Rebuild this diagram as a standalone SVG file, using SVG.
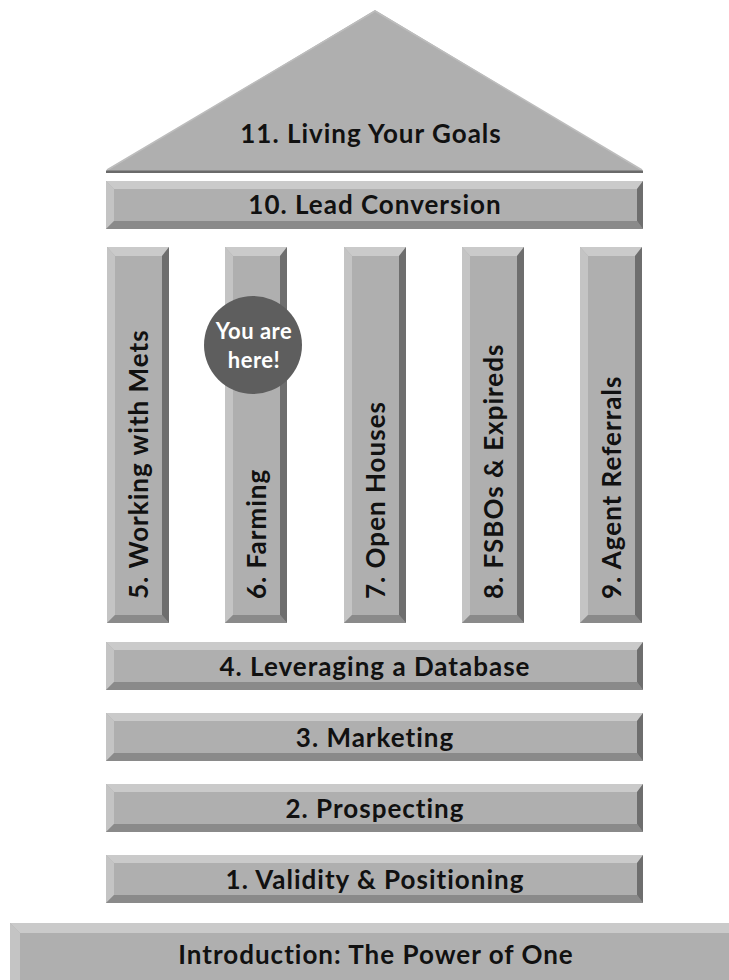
<svg xmlns="http://www.w3.org/2000/svg" xmlns:xlink="http://www.w3.org/1999/xlink" width="729" height="980" viewBox="0 0 729 980">
  <style>
    .face { fill: #afafaf; }
    .top { fill: #cacaca; }
    .left { fill: #c4c4c4; }
    .right { fill: #6e6e6e; }
    .bottom { fill: #8a8a8a; }
    .lbl { font-family: Lato, "Open Sans", "Liberation Sans", sans-serif; font-weight: bold; font-size: 26px; letter-spacing: 1px; fill: #111111; }
    .ctr { text-anchor: middle; }
    .here { font-family: Lato, "Open Sans", "Liberation Sans", sans-serif; font-weight: bold; font-size: 22px; letter-spacing: 0.5px; fill: #ffffff; text-anchor: middle; }
  </style>
  <defs>
    <!-- horizontal bevelled beam, 537 x 48 -->
    <g id="beam">
      <rect class="face" x="0" y="0" width="537" height="48"/>
      <polygon class="top" points="0,0 537,0 531,8 8,8"/>
      <polygon class="left" points="0,0 8,8 8,40 0,48"/>
      <polygon class="bottom" points="0,48 537,48 531,40 8,40"/>
      <polygon class="right" points="537,0 537,48 531,40 531,8"/>
    </g>
    <!-- vertical bevelled pillar, 62 x 376 -->
    <g id="pillar">
      <rect class="face" x="0" y="0" width="62" height="376"/>
      <polygon class="top" points="0,0 62,0 55,9 8,9"/>
      <polygon class="left" points="0,0 8,9 8,368 0,376"/>
      <polygon class="bottom" points="0,376 62,376 55,368 8,368"/>
      <polygon class="right" points="62,0 62,376 55,368 55,9"/>
    </g>
  </defs>

  <rect x="0" y="0" width="729" height="980" fill="#ffffff"/>

  <!-- roof -->
  <g id="n11">
    <polygon points="106,171 375,10 643,171" fill="#afafaf"/>
    <polyline points="107,170 375,11 642,170" fill="none" stroke="#bdbdbd" stroke-width="1.5"/>
    <rect x="106" y="170.5" width="537" height="2.5" fill="#6a6a6a"/>
    <text class="lbl ctr" x="371" y="143">11. Living Your Goals</text>
  </g>

  <g id="n10">
    <use xlink:href="#beam" x="106" y="181"/>
    <text class="lbl ctr" x="375" y="214">10. Lead Conversion</text>
  </g>

  <!-- pillars -->
  <g id="n5">
    <use xlink:href="#pillar" x="107" y="247"/>
    <text class="lbl" transform="translate(148,599) rotate(-90)">5. Working with Mets</text>
  </g>
  <g id="n6">
    <use xlink:href="#pillar" x="225" y="247"/>
    <text class="lbl" transform="translate(266,599) rotate(-90)">6. Farming</text>
  </g>
  <g id="n7">
    <use xlink:href="#pillar" x="344" y="247"/>
    <text class="lbl" transform="translate(385,599) rotate(-90)">7. Open Houses</text>
  </g>
  <g id="n8">
    <use xlink:href="#pillar" x="462" y="247"/>
    <text class="lbl" transform="translate(503,599) rotate(-90)">8. FSBOs &amp; Expireds</text>
  </g>
  <g id="n9">
    <use xlink:href="#pillar" x="580" y="247"/>
    <text class="lbl" transform="translate(621,599) rotate(-90)">9. Agent Referrals</text>
  </g>

  <!-- marker badge -->
  <g id="here">
    <circle cx="253" cy="345" r="49" fill="#5e5e5e"/>
    <text class="here" x="254" y="339">You are</text>
    <text class="here" x="254" y="368">here!</text>
  </g>

  <g id="n4">
    <use xlink:href="#beam" x="106" y="642"/>
    <text class="lbl ctr" x="375" y="676">4. Leveraging a Database</text>
  </g>
  <g id="n3">
    <use xlink:href="#beam" x="106" y="713"/>
    <text class="lbl ctr" x="375" y="747">3. Marketing</text>
  </g>
  <g id="n2">
    <use xlink:href="#beam" x="106" y="784"/>
    <text class="lbl ctr" x="375" y="818">2. Prospecting</text>
  </g>
  <g id="n1">
    <use xlink:href="#beam" x="106" y="855"/>
    <text class="lbl ctr" x="375" y="889">1. Validity &amp; Positioning</text>
  </g>

  <!-- foundation -->
  <g id="n0">
    <rect class="face" x="10" y="923" width="730" height="70"/>
    <polygon class="top" points="10,923 740,923 740,933 20,933"/>
    <polygon class="left" points="10,923 20,933 20,993 10,993"/>
    <text class="lbl ctr" x="376" y="964">Introduction: The Power of One</text>
  </g>

  <g id="connectors"/>
</svg>
